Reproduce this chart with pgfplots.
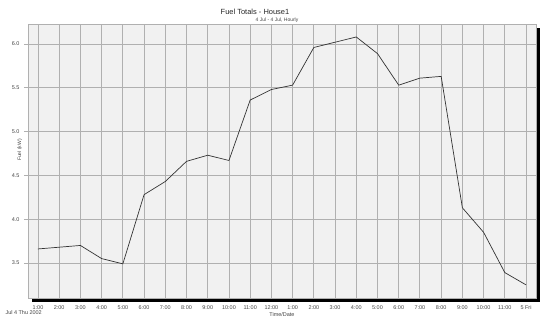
\documentclass[border=0pt]{standalone}
\usepackage{fontspec}
\setmainfont{Liberation Sans}
\usepackage{pgfplots}
\pgfplotsset{compat=1.18}

\definecolor{gridgray}{HTML}{B0B0B0}
\definecolor{bggray}{HTML}{F1F1F1}
\definecolor{txt}{HTML}{444444}

\begin{document}
\begin{tikzpicture}[x=1bp,y=1bp]
\path[use as bounding box] (-28,-23) rectangle (522,298);
% shadow of the plot frame
\fill[black] (4,-3.5) rectangle (512,0);
\fill[black] (508,-3.5) rectangle (512,270);
\begin{axis}[
    at={(0,0)}, anchor=south west,
    scale only axis,
    width=508bp, height=274bp,
    xmin=0.53, xmax=24.47,
    ymin=3.10, ymax=6.228,
    axis background/.style={fill=bggray},
    axis line style={gridgray, line width=1pt},
    grid=major,
    major grid style={gridgray, line width=0.9pt},
    xtick={1,...,24},
    xticklabels={1:00,2:00,3:00,4:00,5:00,6:00,7:00,8:00,9:00,10:00,11:00,12:00,
                 1:00,2:00,3:00,4:00,5:00,6:00,7:00,8:00,9:00,10:00,11:00,5 Fri},
    ytick={3.5,4.0,4.5,5.0,5.5,6.0},
    yticklabel style={xshift=-1bp, /pgf/number format/fixed, /pgf/number format/fixed zerofill, /pgf/number format/precision=1},
    /pgf/number format/assume math mode=true,
    tick label style={font=\fontsize{5.5}{6}\selectfont, text=txt},
    xtick style={draw=none},
    ytick style={gridgray, line width=0.6pt},
    ytick pos=left, tick align=outside,
    major tick length=4bp,
    xticklabel style={yshift=-0.5bp},
    xlabel={Time/Date},
    xlabel style={font=\fontsize{5.5}{6}\selectfont, text=txt, yshift=4bp},
    ylabel={Fuel (kW)},
    ylabel style={font=\fontsize{5}{6}\selectfont, text=txt,
        at={(axis description cs:-0.016,0.54)}, anchor=center, rotate=0},
    clip=false,
]
\addplot[black!80, line width=0.7pt, mark=none] coordinates {
    (1,3.66) (2,3.68) (3,3.70) (4,3.55) (5,3.49) (6,4.28)
    (7,4.43) (8,4.66) (9,4.73) (10,4.67) (11,5.36) (12,5.48)
    (13,5.53) (14,5.96) (15,6.02) (16,6.08) (17,5.89) (18,5.53)
    (19,5.61) (20,5.63) (21,4.13) (22,3.85) (23,3.39) (24,3.25)
};
\end{axis}
\node[font=\fontsize{7.5}{8}\selectfont, text=black!85] at (227,286) {Fuel Totals - House1};
\node[font=\fontsize{5}{6}\selectfont, text=txt] at (249,278) {4 Jul - 4 Jul, Hourly};
\node[font=\fontsize{5.5}{6}\selectfont, text=txt, anchor=west] at (-26,-15) {Jul 4 Thu 2002};
\end{tikzpicture}
\end{document}
